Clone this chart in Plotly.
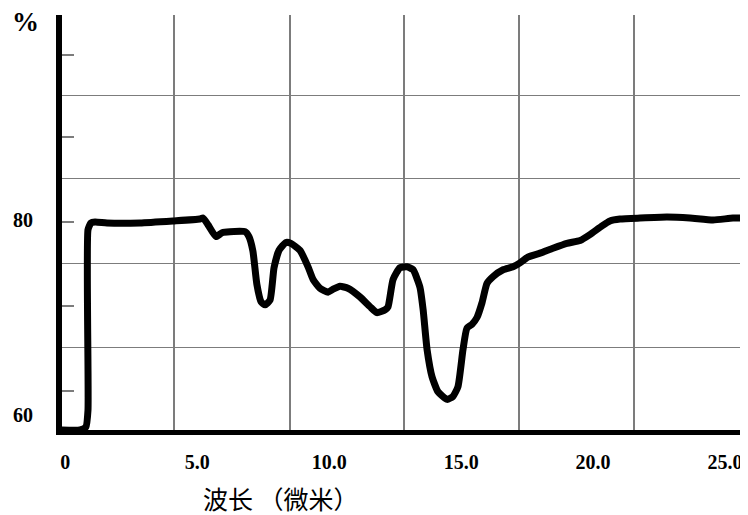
import plotly.graph_objects as go

# Wavelength (micrometres) and transmission (%)
wavelength = [-0.20, 0.56, 0.78, 0.86, 0.86, 0.97, 1.13, 1.58, 2.83, 4.08, 5.10, 5.22,
              5.41, 5.71, 5.94, 6.24, 6.81, 6.96, 7.11, 7.26, 7.42, 7.57, 7.76, 7.91,
              8.10, 8.36, 8.55, 8.89, 9.20, 9.39, 9.65, 9.96, 10.15, 10.41, 10.71, 11.17,
              11.55, 11.81, 12.12, 12.23, 12.42, 12.68, 12.95, 13.18, 13.44, 13.56, 13.71,
              13.90, 14.12, 14.47, 14.69, 14.88, 15.07, 15.22, 15.41, 15.60, 15.79, 15.98,
              16.21, 16.59, 16.97, 17.23, 17.53, 17.99, 18.48, 19.01, 19.51, 19.88, 20.34,
              20.64, 21.02, 21.78, 22.80, 23.67, 24.55, 25.30, 25.87]
transmission = [58.46, 58.46, 58.77, 60.5, 79.0, 79.7, 79.8, 79.7, 79.7, 79.9, 80.1, 80.2,
                79.5, 78.3, 78.7, 78.8, 78.8, 78.3, 76.8, 73.4, 71.6, 71.3, 71.8, 75.1,
                76.9, 77.7, 77.6, 76.9, 75.2, 73.9, 73.0, 72.6, 72.9, 73.2, 73.0, 72.1,
                71.1, 70.5, 70.8, 71.1, 73.9, 75.1, 75.2, 74.9, 73.1, 70.8, 66.7,
                63.9, 62.4, 61.6, 61.9, 62.9, 66.7, 68.9, 69.3, 70.0, 71.5, 73.5,
                74.2, 74.9, 75.2, 75.6, 76.2, 76.6, 77.1, 77.6, 77.9, 78.5, 79.4,
                79.9, 80.1, 80.2, 80.3, 80.2, 80.0, 80.2, 80.2]

x_tick_vals = [0, 5, 10, 15, 20, 25]
x_tick_text = ["0", "5.0", "10.0", "15.0", "20.0", "25.0"]
y_tick_vals = [60, 80]
y_tick_text = ["60", "80"]

# grid / minor tick positions (style)
x_grid = [4.12, 8.52, 12.84, 17.19, 21.55]
y_grid = [66.97, 75.59, 84.21, 92.82]
y_small_ticks = [62.46, 71.18, 79.79, 88.51, 96.92]

x_range = [-0.125, 25.871]
y_range = [58.46, 101.03]

x_title = "波长 （微米）"
y_unit = "%"

grid_color = "#7c7c7c"
label_font = dict(family="Liberation Serif", size=20, color="black", weight="bold")

W, H = 740, 507          # page body adds an 8 px offset
L, T, B = 54, 7, 85
PW, PH = W - L, H - T - B

fig = go.Figure()
fig.add_trace(go.Scatter(
    x=wavelength, y=transmission, mode="lines",
    line=dict(color="black", width=7, shape="spline", smoothing=0.5),
    showlegend=False, hoverinfo="skip",
))
# empty helper trace so the secondary y axis (small inside ticks) is always drawn
fig.add_trace(go.Scatter(x=[], y=[], yaxis="y2", mode="lines",
                         showlegend=False, hoverinfo="skip"))

fig.update_layout(
    width=W, height=H,
    margin=dict(l=L, r=0, t=T, b=B),
    paper_bgcolor="white", plot_bgcolor="white",
    xaxis=dict(
        range=x_range, tickmode="array", tickvals=x_tick_vals, ticktext=x_tick_text,
        ticks="", showgrid=False, zeroline=False,
        showline=True, linewidth=5, linecolor="black",
        tickfont=label_font, ticklabelstandoff=10,
        minor=dict(tickvals=x_grid, showgrid=True, gridcolor=grid_color, gridwidth=1.6, ticks=""),
    ),
    xaxis2=dict(
        range=x_range, overlaying="x", side="top", showline=True, linewidth=5,
        linecolor="black", showticklabels=False, ticks="", showgrid=False, zeroline=False,
    ),
    yaxis=dict(
        range=y_range, tickmode="array", tickvals=y_tick_vals, ticktext=y_tick_text,
        ticks="", showgrid=False, zeroline=False,
        showline=True, linewidth=6, linecolor="black",
        tickfont=label_font, ticklabelstandoff=19,
        minor=dict(tickvals=y_grid, showgrid=True, gridcolor=grid_color, gridwidth=1.4, ticks=""),
    ),
    yaxis2=dict(
        range=y_range, overlaying="y", side="left", tickmode="array", tickvals=y_small_ticks,
        ticks="inside", ticklen=12, tickwidth=1.5, tickcolor=grid_color,
        showticklabels=False, showgrid=False, zeroline=False, showline=False,
    ),
    annotations=[
        dict(text=y_unit, xref="paper", yref="paper", x=(17 - L) / PW, y=(T + PH - 14) / PH,
             xanchor="center", yanchor="middle", showarrow=False,
             font=dict(family="Liberation Serif", size=27, color="black", weight="bold")),
        dict(text=x_title, xref="paper", yref="paper", x=(273 - L) / PW, y=(T + PH - 490) / PH,
             xanchor="center", yanchor="middle", showarrow=False,
             font=dict(family="Noto Sans CJK SC", size=25, color="black")),
    ],
)

fig.write_html("out.html")
